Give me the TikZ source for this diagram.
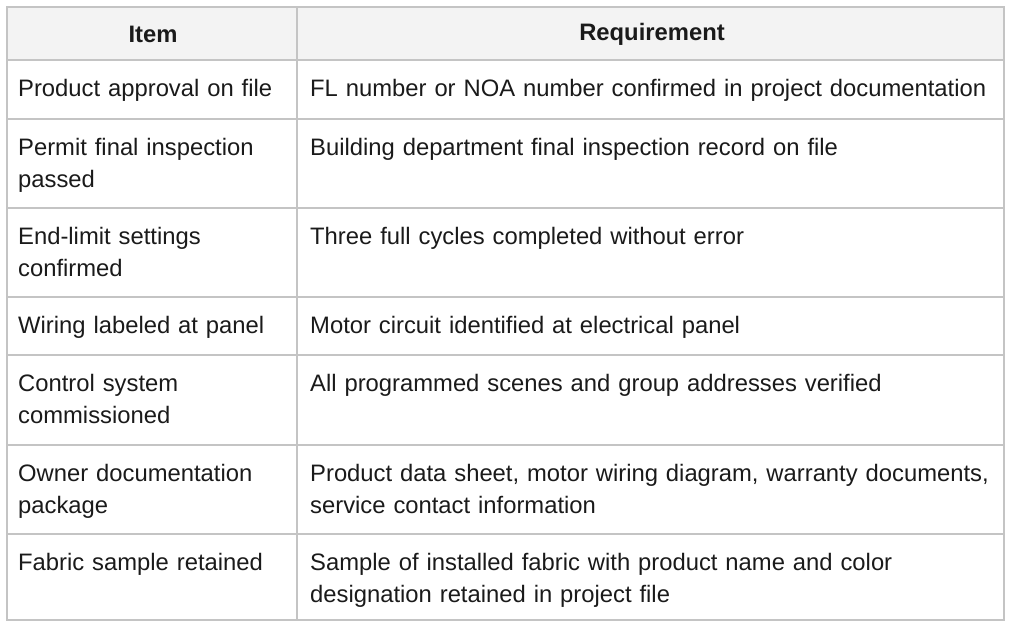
\documentclass[tikz,border=0pt]{standalone}
\usepackage{fontspec}
\setmainfont{Liberation Sans}
\usetikzlibrary{positioning}
\definecolor{rule}{HTML}{C4C4C4}
\definecolor{headfill}{HTML}{F3F3F3}
\definecolor{ink}{HTML}{1A1A1A}
\tikzstyle{cell}=[anchor=north west,align=left,inner sep=0pt,text width=280pt,font=\fontsize{23.8}{32}\selectfont,text=ink]
\tikzstyle{wide}=[cell,text width=690pt]
\tikzstyle{head}=[inner sep=0pt,font=\fontsize{23.8}{32}\selectfont\bfseries,text=ink]

\begin{document}
\begin{tikzpicture}
	[x=1pt,y=-1pt,]
	\useasboundingbox (0,0) rectangle (1010,624);
	\fill[headfill] (7,7) rectangle (1004,60);
	
	\node (h1) [head] at (153,34) {Item};
	\node (h2) [head] at (652,34) {Requirement};
	
	\node (a1) [cell] at (18,79) {Product approval on file};
	\node (b1) [wide] at (310,79) {FL number or NOA number confirmed in project documentation};
	\node (a2) [cell] at (18,138) {Permit final inspection\\passed};
	\node (b2) [wide] at (310,138) {Building department final inspection record on file};
	\node (a3) [cell] at (18,227) {End-limit settings\\confirmed};
	\node (b3) [wide] at (310,227) {Three full cycles completed without error};
	\node (a4) [cell] at (18,316) {Wiring labeled at panel};
	\node (b4) [wide] at (310,316) {Motor circuit identified at electrical panel};
	\node (a5) [cell] at (18,374) {Control system\\commissioned};
	\node (b5) [wide] at (310,374) {All programmed scenes and group addresses verified};
	\node (a6) [cell] at (18,464) {Owner documentation\\package};
	\node (b6) [wide] at (310,464) {Product data sheet, motor wiring diagram, warranty documents,\\service contact information};
	\node (a7) [cell] at (18,553) {Fabric sample retained};
	\node (b7) [wide] at (310,553) {Sample of installed fabric with product name and color\\designation retained in project file};
	
	\draw[rule,line width=1.2pt] (7,7) rectangle (1004,620);
	\draw[rule,line width=1.2pt] (297,7) -- (297,620);
	\foreach \y in {60,119,208,297,355,445,534}
		\draw[rule,line width=1.2pt] (7,\y) -- (1004,\y);
\end{tikzpicture}
\end{document}
